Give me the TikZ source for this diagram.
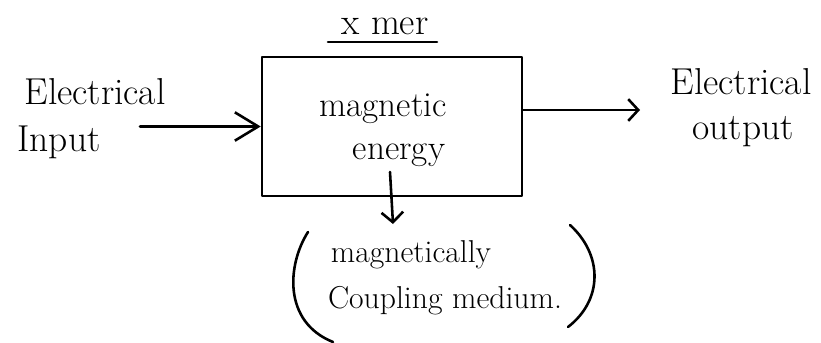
\documentclass[tikz,border=0pt]{standalone}
\usetikzlibrary{arrows.meta}
\begin{document}
\begin{tikzpicture}[x=0.03cm, y=-0.03cm,
  ink/.style={line width=2.2pt, line cap=round, line join=round},
  label/.style={inner sep=0pt, anchor=base, font=\fontsize{32}{36}\selectfont},
  inner/.style={inner sep=0pt, anchor=base, font=\fontsize{30}{34}\selectfont},
  lower/.style={inner sep=0pt, anchor=base, font=\fontsize{27}{30}\selectfont},
  bigbarb/.style={-{Straight Barb[length=0.7cm, width=0.85cm, line width=2.2pt]}},
  smallbarb/.style={-{Straight Barb[length=0.3cm, width=0.65cm, line width=2.2pt]}}
]
\useasboundingbox (0,0) rectangle (821,343);

% transformer block
\node[ink, draw, rectangle, minimum width=7.8cm, minimum height=4.17cm,
      inner sep=0pt] (box) at (392,126.5) {};
\node[label] (title) at (385,35) {x mer};
\draw[ink] (328,42) -- (437,42);

% contents of the block
\node[inner] (mag) at (383,117) {magnetic};
\node[inner] (en)  at (399,160) {energy};

% input side
\node[label] (inA) at (95,105) {Electrical};
\node[label] (inB) at (59,152) {Input};
\coordinate (inStart) at (140,126.5);
\draw[ink, bigbarb] (inStart) -- (box.west);

% output side
\node[label] (outA) at (741,95) {Electrical};
\node[label] (outB) at (743,140) {output};
\coordinate (outEnd) at (640,110);
\draw[ink, smallbarb] (box.east |- outEnd) -- (outEnd);

% coupling medium below the block
\coordinate (drop) at (390,172);
\coordinate (dropEnd) at (393,224);
\draw[ink, smallbarb] (drop) -- (dropEnd);
\node[lower] (medA) at (411,262) {magnetically};
\node[lower] (medB) at (445,308) {Coupling medium.};
\draw[ink] (308,232) .. controls (287,265) and (283,322) .. (333,342);
\draw[ink] (570,225) .. controls (603,255) and (603,300) .. (568,327);
\end{tikzpicture}
\end{document}
